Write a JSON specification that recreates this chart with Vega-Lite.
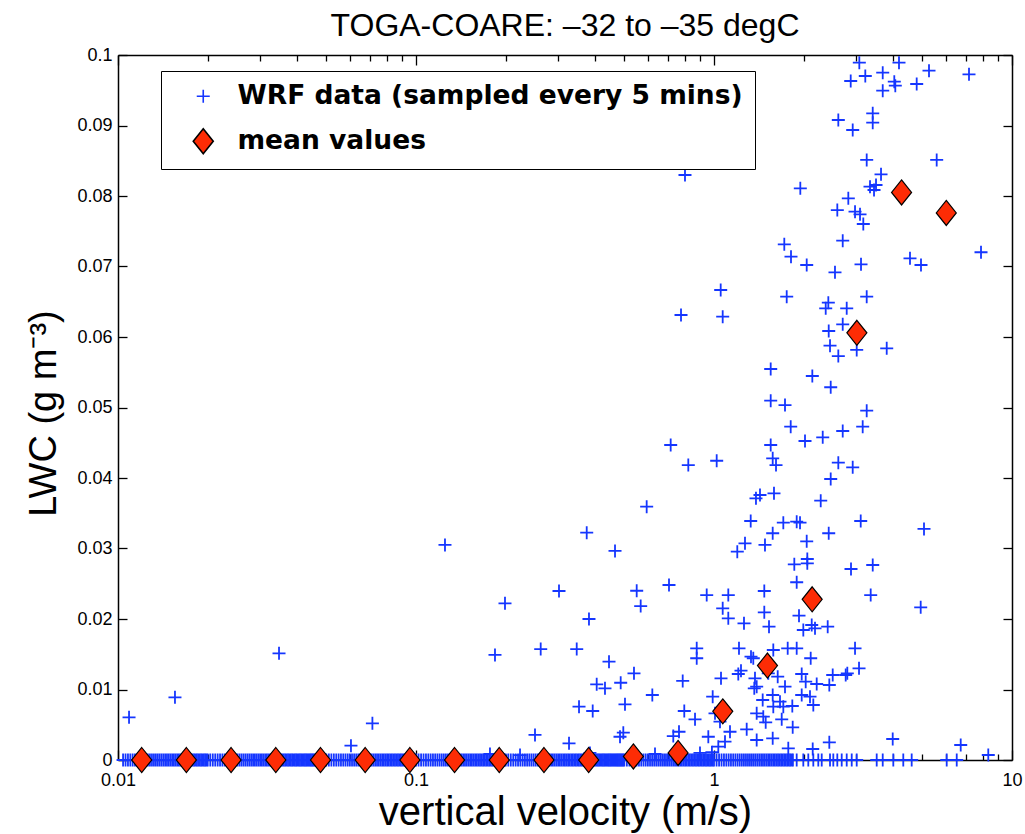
{
"$schema": "https://vega.github.io/schema/vega-lite/v6.json",
"width": 894,
"height": 705,
"autosize": {"type": "none"},
"padding": {"left": 118, "top": 55, "right": 13, "bottom": 74},
"background": "white",
"title": {"text": "TOGA-COARE: –32 to –35 degC", "font": "Liberation Sans", "fontSize": 32, "fontWeight": "normal", "color": "black", "anchor": "middle", "baseline": "alphabetic", "offset": 18, "dy": 40},
"config": {
  "view": {"stroke": null},
  "axis": {"grid": false, "domainColor": "black", "domainWidth": 1.5, "tickColor": "black", "tickWidth": 1.3, "labelColor": "black", "titleColor": "black", "labelFont": "Liberation Sans", "labelFontSize": 18, "titleFont": "Liberation Sans", "titleFontWeight": "normal", "labelFlush": false, "labelOverlap": false}
},
"datasets": {
"band": [
{"v":0.0104,"lwc":0},{"v":0.0106,"lwc":0},{"v":0.0108,"lwc":0},{"v":0.011,"lwc":0},{"v":0.0112,"lwc":0},{"v":0.0114,"lwc":0},{"v":0.0116,"lwc":0},{"v":0.0118,"lwc":0},{"v":0.012,"lwc":0},{"v":0.0122,"lwc":0},{"v":0.0124,"lwc":0},{"v":0.0126,"lwc":0},{"v":0.0128,"lwc":0},{"v":0.013,"lwc":0},{"v":0.0132,"lwc":0},{"v":0.0134,"lwc":0},{"v":0.0136,"lwc":0},{"v":0.0138,"lwc":0},{"v":0.014,"lwc":0},{"v":0.0142,"lwc":0},{"v":0.0144,"lwc":0},{"v":0.0146,"lwc":0},{"v":0.0148,"lwc":0},{"v":0.015,"lwc":0},{"v":0.0152,"lwc":0},{"v":0.0154,"lwc":0},{"v":0.0156,"lwc":0},{"v":0.0158,"lwc":0},{"v":0.016,"lwc":0},{"v":0.0162,"lwc":0},{"v":0.0164,"lwc":0},{"v":0.0166,"lwc":0},{"v":0.0168,"lwc":0},{"v":0.017,"lwc":0},{"v":0.0172,"lwc":0},{"v":0.0174,"lwc":0},{"v":0.0176,"lwc":0},{"v":0.0178,"lwc":0},{"v":0.018,"lwc":0},{"v":0.0182,"lwc":0},{"v":0.0184,"lwc":0},{"v":0.0186,"lwc":0},{"v":0.0188,"lwc":0},{"v":0.019,"lwc":0},{"v":0.0192,"lwc":0},{"v":0.0194,"lwc":0},{"v":0.0196,"lwc":0},{"v":0.0198,"lwc":0},
{"v":0.02,"lwc":0},{"v":0.0204,"lwc":0},{"v":0.0208,"lwc":0},{"v":0.0212,"lwc":0},{"v":0.0216,"lwc":0},{"v":0.022,"lwc":0},{"v":0.0224,"lwc":0},{"v":0.0228,"lwc":0},{"v":0.0232,"lwc":0},{"v":0.0236,"lwc":0},{"v":0.024,"lwc":0},{"v":0.0244,"lwc":0},{"v":0.0248,"lwc":0},{"v":0.0252,"lwc":0},{"v":0.0256,"lwc":0},{"v":0.026,"lwc":0},{"v":0.0264,"lwc":0},{"v":0.0268,"lwc":0},{"v":0.0272,"lwc":0},{"v":0.0276,"lwc":0},{"v":0.028,"lwc":0},{"v":0.0284,"lwc":0},{"v":0.0288,"lwc":0},{"v":0.0292,"lwc":0},{"v":0.0296,"lwc":0},{"v":0.03,"lwc":0},{"v":0.0304,"lwc":0},{"v":0.0308,"lwc":0},{"v":0.0312,"lwc":0},{"v":0.0316,"lwc":0},{"v":0.032,"lwc":0},{"v":0.0324,"lwc":0},{"v":0.0328,"lwc":0},{"v":0.0332,"lwc":0},{"v":0.0336,"lwc":0},{"v":0.034,"lwc":0},{"v":0.0344,"lwc":0},{"v":0.0348,"lwc":0},{"v":0.0352,"lwc":0},{"v":0.0356,"lwc":0},{"v":0.036,"lwc":0},{"v":0.0364,"lwc":0},{"v":0.0368,"lwc":0},{"v":0.0372,"lwc":0},{"v":0.0376,"lwc":0},{"v":0.038,"lwc":0},{"v":0.0384,"lwc":0},{"v":0.0388,"lwc":0},{"v":0.0392,"lwc":0},{"v":0.0396,"lwc":0},{"v":0.04,"lwc":0},{"v":0.0404,"lwc":0},{"v":0.0408,"lwc":0},{"v":0.0412,"lwc":0},{"v":0.0416,"lwc":0},{"v":0.042,"lwc":0},{"v":0.0424,"lwc":0},{"v":0.0428,"lwc":0},{"v":0.0432,"lwc":0},{"v":0.0436,"lwc":0},{"v":0.044,"lwc":0},{"v":0.0444,"lwc":0},{"v":0.0448,"lwc":0},{"v":0.0452,"lwc":0},{"v":0.0456,"lwc":0},{"v":0.046,"lwc":0},{"v":0.0464,"lwc":0},{"v":0.0468,"lwc":0},{"v":0.0472,"lwc":0},{"v":0.0476,"lwc":0},{"v":0.048,"lwc":0},{"v":0.0484,"lwc":0},{"v":0.0488,"lwc":0},{"v":0.0492,"lwc":0},{"v":0.0496,"lwc":0},
{"v":0.05,"lwc":0},{"v":0.051,"lwc":0},{"v":0.052,"lwc":0},{"v":0.053,"lwc":0},{"v":0.054,"lwc":0},{"v":0.055,"lwc":0},{"v":0.056,"lwc":0},{"v":0.057,"lwc":0},{"v":0.058,"lwc":0},{"v":0.059,"lwc":0},{"v":0.06,"lwc":0},{"v":0.061,"lwc":0},{"v":0.062,"lwc":0},{"v":0.063,"lwc":0},{"v":0.064,"lwc":0},{"v":0.065,"lwc":0},{"v":0.066,"lwc":0},{"v":0.067,"lwc":0},{"v":0.068,"lwc":0},{"v":0.069,"lwc":0},{"v":0.07,"lwc":0},{"v":0.071,"lwc":0},{"v":0.072,"lwc":0},{"v":0.073,"lwc":0},{"v":0.074,"lwc":0},{"v":0.075,"lwc":0},{"v":0.076,"lwc":0},{"v":0.077,"lwc":0},{"v":0.078,"lwc":0},{"v":0.079,"lwc":0},{"v":0.08,"lwc":0},{"v":0.081,"lwc":0},{"v":0.082,"lwc":0},{"v":0.083,"lwc":0},{"v":0.084,"lwc":0},{"v":0.085,"lwc":0},{"v":0.086,"lwc":0},{"v":0.087,"lwc":0},{"v":0.088,"lwc":0},{"v":0.089,"lwc":0},{"v":0.09,"lwc":0},{"v":0.091,"lwc":0},{"v":0.092,"lwc":0},{"v":0.093,"lwc":0},{"v":0.094,"lwc":0},{"v":0.095,"lwc":0},{"v":0.096,"lwc":0},{"v":0.097,"lwc":0},{"v":0.098,"lwc":0},{"v":0.099,"lwc":0},
{"v":0.1,"lwc":0},{"v":0.102,"lwc":0},{"v":0.104,"lwc":0},{"v":0.106,"lwc":0},{"v":0.108,"lwc":0},{"v":0.11,"lwc":0},{"v":0.112,"lwc":0},{"v":0.114,"lwc":0},{"v":0.116,"lwc":0},{"v":0.118,"lwc":0},{"v":0.12,"lwc":0},{"v":0.122,"lwc":0},{"v":0.124,"lwc":0},{"v":0.126,"lwc":0},{"v":0.128,"lwc":0},{"v":0.13,"lwc":0},{"v":0.132,"lwc":0},{"v":0.134,"lwc":0},{"v":0.136,"lwc":0},{"v":0.138,"lwc":0},{"v":0.14,"lwc":0},{"v":0.142,"lwc":0},{"v":0.144,"lwc":0},{"v":0.146,"lwc":0},{"v":0.148,"lwc":0},{"v":0.15,"lwc":0},{"v":0.152,"lwc":0},{"v":0.154,"lwc":0},{"v":0.156,"lwc":0},{"v":0.158,"lwc":0},{"v":0.16,"lwc":0},{"v":0.162,"lwc":0},{"v":0.164,"lwc":0},{"v":0.166,"lwc":0},{"v":0.168,"lwc":0},{"v":0.17,"lwc":0},{"v":0.172,"lwc":0},{"v":0.174,"lwc":0},{"v":0.176,"lwc":0},{"v":0.178,"lwc":0},{"v":0.18,"lwc":0},{"v":0.182,"lwc":0},{"v":0.184,"lwc":0},{"v":0.186,"lwc":0},{"v":0.188,"lwc":0},{"v":0.19,"lwc":0},{"v":0.192,"lwc":0},{"v":0.194,"lwc":0},{"v":0.196,"lwc":0},{"v":0.198,"lwc":0},
{"v":0.2,"lwc":0},{"v":0.204,"lwc":0},{"v":0.208,"lwc":0},{"v":0.212,"lwc":0},{"v":0.216,"lwc":0},{"v":0.22,"lwc":0},{"v":0.224,"lwc":0},{"v":0.228,"lwc":0},{"v":0.232,"lwc":0},{"v":0.236,"lwc":0},{"v":0.24,"lwc":0},{"v":0.244,"lwc":0},{"v":0.248,"lwc":0},{"v":0.252,"lwc":0},{"v":0.256,"lwc":0},{"v":0.26,"lwc":0},{"v":0.264,"lwc":0},{"v":0.268,"lwc":0},{"v":0.272,"lwc":0},{"v":0.276,"lwc":0},{"v":0.28,"lwc":0},{"v":0.284,"lwc":0},{"v":0.288,"lwc":0},{"v":0.292,"lwc":0},{"v":0.296,"lwc":0},{"v":0.3,"lwc":0},{"v":0.304,"lwc":0},{"v":0.308,"lwc":0},{"v":0.312,"lwc":0},{"v":0.316,"lwc":0},{"v":0.32,"lwc":0},{"v":0.324,"lwc":0},{"v":0.328,"lwc":0},{"v":0.332,"lwc":0},{"v":0.336,"lwc":0},{"v":0.34,"lwc":0},{"v":0.344,"lwc":0},{"v":0.348,"lwc":0},{"v":0.352,"lwc":0},{"v":0.356,"lwc":0},{"v":0.36,"lwc":0},{"v":0.364,"lwc":0},{"v":0.368,"lwc":0},{"v":0.372,"lwc":0},{"v":0.376,"lwc":0},{"v":0.38,"lwc":0},{"v":0.384,"lwc":0},{"v":0.388,"lwc":0},{"v":0.392,"lwc":0},{"v":0.396,"lwc":0},{"v":0.4,"lwc":0},{"v":0.404,"lwc":0},{"v":0.408,"lwc":0},{"v":0.412,"lwc":0},{"v":0.416,"lwc":0},{"v":0.42,"lwc":0},{"v":0.424,"lwc":0},{"v":0.428,"lwc":0},{"v":0.432,"lwc":0},{"v":0.436,"lwc":0},{"v":0.44,"lwc":0},{"v":0.444,"lwc":0},{"v":0.448,"lwc":0},{"v":0.452,"lwc":0},{"v":0.456,"lwc":0},{"v":0.46,"lwc":0},{"v":0.464,"lwc":0},{"v":0.468,"lwc":0},{"v":0.472,"lwc":0},{"v":0.476,"lwc":0},{"v":0.48,"lwc":0},{"v":0.484,"lwc":0},{"v":0.488,"lwc":0},{"v":0.492,"lwc":0},{"v":0.496,"lwc":0},
{"v":0.5,"lwc":0},{"v":0.51,"lwc":0},{"v":0.52,"lwc":0},{"v":0.53,"lwc":0},{"v":0.54,"lwc":0},{"v":0.55,"lwc":0},{"v":0.56,"lwc":0},{"v":0.57,"lwc":0},{"v":0.58,"lwc":0},{"v":0.59,"lwc":0},{"v":0.6,"lwc":0},{"v":0.61,"lwc":0},{"v":0.62,"lwc":0},{"v":0.63,"lwc":0},{"v":0.64,"lwc":0},{"v":0.65,"lwc":0},{"v":0.66,"lwc":0},{"v":0.67,"lwc":0},{"v":0.68,"lwc":0},{"v":0.69,"lwc":0},{"v":0.7,"lwc":0},{"v":0.71,"lwc":0},{"v":0.72,"lwc":0},{"v":0.73,"lwc":0},{"v":0.74,"lwc":0},{"v":0.75,"lwc":0},{"v":0.76,"lwc":0},{"v":0.77,"lwc":0},{"v":0.78,"lwc":0},{"v":0.79,"lwc":0},{"v":0.8,"lwc":0},{"v":0.81,"lwc":0},{"v":0.82,"lwc":0},{"v":0.83,"lwc":0},{"v":0.84,"lwc":0},{"v":0.85,"lwc":0},{"v":0.86,"lwc":0},{"v":0.87,"lwc":0},{"v":0.88,"lwc":0},{"v":0.89,"lwc":0},{"v":0.9,"lwc":0},{"v":0.91,"lwc":0},{"v":0.92,"lwc":0},{"v":0.93,"lwc":0},{"v":0.94,"lwc":0},{"v":0.95,"lwc":0},{"v":0.96,"lwc":0},{"v":0.97,"lwc":0},{"v":0.98,"lwc":0},{"v":0.99,"lwc":0},
{"v":1,"lwc":0},{"v":1.02,"lwc":0},{"v":1.04,"lwc":0},{"v":1.06,"lwc":0},{"v":1.08,"lwc":0},{"v":1.1,"lwc":0},{"v":1.12,"lwc":0},{"v":1.14,"lwc":0},{"v":1.16,"lwc":0},{"v":1.18,"lwc":0},{"v":1.2,"lwc":0},{"v":1.22,"lwc":0},{"v":1.24,"lwc":0},{"v":1.26,"lwc":0},{"v":1.28,"lwc":0},{"v":1.3,"lwc":0},{"v":1.32,"lwc":0},{"v":1.34,"lwc":0},{"v":1.36,"lwc":0},{"v":1.38,"lwc":0},{"v":1.4,"lwc":0},{"v":1.42,"lwc":0},{"v":1.44,"lwc":0},{"v":1.46,"lwc":0},{"v":1.48,"lwc":0},{"v":1.5,"lwc":0},{"v":1.52,"lwc":0},{"v":1.54,"lwc":0},{"v":1.56,"lwc":0},{"v":1.58,"lwc":0},{"v":1.6,"lwc":0},{"v":1.62,"lwc":0},{"v":1.64,"lwc":0},{"v":1.66,"lwc":0},{"v":1.68,"lwc":0},{"v":1.7,"lwc":0},{"v":1.72,"lwc":0},{"v":1.74,"lwc":0},{"v":1.76,"lwc":0},{"v":1.78,"lwc":0},{"v":1.8,"lwc":0},{"v":1.82,"lwc":0},{"v":1.84,"lwc":0}
],
"wrf": [
{"v":0.01089,"lwc":0.00606,"s":"w"},{"v":0.01553,"lwc":0.00889,"s":"w"},{"v":0.0347,"lwc":0.01513,"s":"w"},{"v":0.0605,"lwc":0.00203,"s":"w"},{"v":0.0714,"lwc":0.0052,"s":"w"},{"v":0.1251,"lwc":0.0305,"s":"w"},{"v":0.1771,"lwc":0.00085,"s":"w"},{"v":0.1841,"lwc":0.0149,"s":"w"},{"v":0.1989,"lwc":0.02223,"s":"w"},{"v":0.2234,"lwc":0.0007,"s":"w"},{"v":0.2508,"lwc":0.00355,"s":"w"},{"v":0.2621,"lwc":0.01574,"s":"w"},{"v":0.3019,"lwc":0.02397,"s":"w"},{"v":0.3262,"lwc":0.00237,"s":"w"},{"v":0.3462,"lwc":0.01574,"s":"w"},{"v":0.3524,"lwc":0.00756,"s":"w"},{"v":0.374,"lwc":0.03224,"s":"w"},{"v":0.3806,"lwc":0.02,"s":"w"},{"v":0.3834,"lwc":0.001,"s":"w"},{"v":0.3917,"lwc":0.00695,"s":"w"},{"v":0.404,"lwc":0.01074,"s":"w"},{"v":0.4307,"lwc":0.01017,"s":"w"},{"v":0.4443,"lwc":0.01394,"s":"w"},{"v":0.4654,"lwc":0.02965,"s":"w"},{"v":0.4837,"lwc":0.0033,"s":"w"},{"v":0.4863,"lwc":0.01096,"s":"w"},{"v":0.4962,"lwc":0.00387,"s":"w"},{"v":0.5027,"lwc":0.0079,"s":"w"},{"v":0.5389,"lwc":0.0123,"s":"w"},{"v":0.5503,"lwc":0.02401,"s":"w"},{"v":0.5675,"lwc":0.02184,"s":"w"},{"v":0.5944,"lwc":0.03593,"s":"w"},{"v":0.6209,"lwc":0.00922,"s":"w"},{"v":0.6339,"lwc":0.00085,"s":"w"},{"v":0.7063,"lwc":0.02482,"s":"w"},{"v":0.7156,"lwc":0.04468,"s":"w"},{"v":0.7301,"lwc":0.0034,"s":"w"},{"v":0.763,"lwc":0.00401,"s":"w"},{"v":0.775,"lwc":0.06312,"s":"w"},{"v":0.7852,"lwc":0.01121,"s":"w"},{"v":0.7948,"lwc":0.00695,"s":"w"},{"v":0.7992,"lwc":0.08298,"s":"w"},{"v":0.8199,"lwc":0.04184,"s":"w"},{"v":0.8636,"lwc":0.00577,"s":"w"},{"v":0.875,"lwc":0.01584,"s":"w"},{"v":0.875,"lwc":0.01443,"s":"w"},{"v":0.8974,"lwc":0.001,"s":"w"},{"v":0.9452,"lwc":0.0234,"s":"w"},{"v":0.957,"lwc":0.0033,"s":"w"},{"v":0.984,"lwc":0.0011,"s":"w"},{"v":0.9899,"lwc":0.00898,"s":"w"},
{"v":1.0078,"lwc":0.00662,"s":"w"},{"v":1.021,"lwc":0.04245,"s":"w"},{"v":1.0338,"lwc":0.00189,"s":"w"},{"v":1.0474,"lwc":0.00543,"s":"w"},{"v":1.0531,"lwc":0.06667,"s":"w"},{"v":1.0556,"lwc":0.01159,"s":"w"},{"v":1.0695,"lwc":0.02152,"s":"w"},{"v":1.0695,"lwc":0.06288,"s":"w"},{"v":1.0887,"lwc":0.0026,"s":"w"},{"v":1.1168,"lwc":0.0234,"s":"w"},{"v":1.1168,"lwc":0.0201,"s":"w"},{"v":1.1315,"lwc":0.00401,"s":"w"},{"v":1.1971,"lwc":0.02955,"s":"w"},{"v":1.2064,"lwc":0.0122,"s":"w"},{"v":1.213,"lwc":0.01584,"s":"w"},{"v":1.2319,"lwc":0.01267,"s":"w"},{"v":1.2608,"lwc":0.01939,"s":"w"},{"v":1.2706,"lwc":0.03074,"s":"w"},{"v":1.2874,"lwc":0.00435,"s":"w"},{"v":1.3279,"lwc":0.0339,"s":"w"},{"v":1.331,"lwc":0.01465,"s":"w"},{"v":1.3547,"lwc":0.01443,"s":"w"},{"v":1.3651,"lwc":0.01017,"s":"w"},{"v":1.3726,"lwc":0.01159,"s":"w"},{"v":1.3831,"lwc":0.03712,"s":"w"},{"v":1.3907,"lwc":0.0104,"s":"w"},{"v":1.3907,"lwc":0.00662,"s":"w"},{"v":1.3907,"lwc":0.00284,"s":"w"},{"v":1.4267,"lwc":0.03759,"s":"w"},{"v":1.4567,"lwc":0.00851,"s":"w"},{"v":1.4634,"lwc":0.00614,"s":"w"},{"v":1.4749,"lwc":0.02397,"s":"w"},{"v":1.4749,"lwc":0.02095,"s":"w"},{"v":1.4828,"lwc":0.0305,"s":"w"},{"v":1.491,"lwc":0.00535,"s":"w"},{"v":1.5212,"lwc":0.0123,"s":"w"},{"v":1.5296,"lwc":0.01891,"s":"w"},{"v":1.5498,"lwc":0.04468,"s":"w"},{"v":1.5498,"lwc":0.05097,"s":"w"},{"v":1.5498,"lwc":0.05546,"s":"w"},{"v":1.5739,"lwc":0.04279,"s":"w"},{"v":1.5739,"lwc":0.03216,"s":"w"},{"v":1.5739,"lwc":0.00922,"s":"w"},{"v":1.5739,"lwc":0.00308,"s":"w"},{"v":1.5812,"lwc":0.0156,"s":"w"},{"v":1.5812,"lwc":0.00756,"s":"w"},{"v":1.5897,"lwc":0.03783,"s":"w"},{"v":1.6147,"lwc":0.04184,"s":"w"},{"v":1.636,"lwc":0.01182,"s":"w"},{"v":1.6653,"lwc":0.00827,"s":"w"},{"v":1.6874,"lwc":0.00577,"s":"w"},{"v":1.7084,"lwc":0.03366,"s":"w"},{"v":1.7084,"lwc":0.00756,"s":"w"},{"v":1.7214,"lwc":0.07315,"s":"w"},{"v":1.7309,"lwc":0.05035,"s":"w"},{"v":1.7309,"lwc":0.0104,"s":"w"},{"v":1.7538,"lwc":0.06572,"s":"w"},{"v":1.7673,"lwc":0.01584,"s":"w"},{"v":1.7754,"lwc":0.00166,"s":"w"},{"v":1.8088,"lwc":0.04728,"s":"w"},{"v":1.813,"lwc":0.07139,"s":"w"},{"v":1.8314,"lwc":0.00766,"s":"w"},{"v":1.8369,"lwc":0.00464,"s":"w"},{"v":1.8599,"lwc":0.02776,"s":"w"},{"v":1.8945,"lwc":0.0338,"s":"w"},{"v":1.8945,"lwc":0.02521,"s":"w"},{"v":1.8945,"lwc":0.01584,"s":"w"},{"v":1.8945,"lwc":0,"s":"w"},{"v":1.9286,"lwc":0.02047,"s":"w"},{"v":1.9437,"lwc":0.03366,"s":"w"},{"v":1.9482,"lwc":0.08109,"s":"w"},{"v":1.9693,"lwc":0.0122,"s":"w"},{"v":1.9693,"lwc":0.00922,"s":"w"},{"v":1.9939,"lwc":0.01844,"s":"w"},{"v":1.9939,"lwc":0,"s":"w"},
{"v":2.0202,"lwc":0.04525,"s":"w"},{"v":2.031,"lwc":0.01111,"s":"w"},{"v":2.0469,"lwc":0.03102,"s":"w"},{"v":2.0469,"lwc":0.07021,"s":"w"},{"v":2.0564,"lwc":0.02851,"s":"w"},{"v":2.0564,"lwc":0.0279,"s":"w"},{"v":2.0722,"lwc":0,"s":"w"},{"v":2.0996,"lwc":0.00898,"s":"w"},{"v":2.111,"lwc":0.01443,"s":"w"},{"v":2.1277,"lwc":0.01915,"s":"w"},{"v":2.1376,"lwc":0.05447,"s":"w"},{"v":2.1441,"lwc":0.00156,"s":"w"},{"v":2.1541,"lwc":0.0078,"s":"w"},{"v":2.1541,"lwc":0,"s":"w"},{"v":2.1825,"lwc":0.01868,"s":"w"},{"v":2.2113,"lwc":0.01078,"s":"w"},{"v":2.2387,"lwc":0,"s":"w"},{"v":2.281,"lwc":0.03678,"s":"w"},{"v":2.2987,"lwc":0,"s":"w"},{"v":2.3166,"lwc":0.04577,"s":"w"},{"v":2.3707,"lwc":0.06407,"s":"w"},{"v":2.4074,"lwc":0.01891,"s":"w"},{"v":2.419,"lwc":0.06487,"s":"w"},{"v":2.4263,"lwc":0.03216,"s":"w"},{"v":2.4263,"lwc":0.06085,"s":"w"},{"v":2.4375,"lwc":0.01064,"s":"w"},{"v":2.4375,"lwc":0.00251,"s":"w"},{"v":2.4509,"lwc":0.05877,"s":"w"},{"v":2.4509,"lwc":0,"s":"w"},{"v":2.464,"lwc":0.03986,"s":"w"},{"v":2.464,"lwc":0.05287,"s":"w"},{"v":2.5024,"lwc":0.01206,"s":"w"},{"v":2.5141,"lwc":0,"s":"w"},{"v":2.5468,"lwc":0.06918,"s":"w"},{"v":2.5929,"lwc":0.07801,"s":"w"},{"v":2.5929,"lwc":0,"s":"w"},{"v":2.6131,"lwc":0.04217,"s":"w"},{"v":2.6131,"lwc":0.09078,"s":"w"},{"v":2.6131,"lwc":0.0573,"s":"w"},{"v":2.6825,"lwc":0,"s":"w"},{"v":2.7036,"lwc":0.04667,"s":"w"},{"v":2.7036,"lwc":0.07366,"s":"w"},{"v":2.7036,"lwc":0.0618,"s":"w"},{"v":2.7666,"lwc":0.01206,"s":"w"},{"v":2.7883,"lwc":0.06407,"s":"w"},{"v":2.7883,"lwc":0,"s":"w"},{"v":2.8012,"lwc":0.0123,"s":"w"},{"v":2.823,"lwc":0.07967,"s":"w"},{"v":2.8758,"lwc":0.09631,"s":"w"},{"v":2.8824,"lwc":0.02709,"s":"w"},{"v":2.8983,"lwc":0,"s":"w"},{"v":2.9205,"lwc":0.04152,"s":"w"},{"v":2.9205,"lwc":0.08936,"s":"w"},{"v":2.9734,"lwc":0.01584,"s":"w"},{"v":2.9734,"lwc":0.07777,"s":"w"},
{"v":3.0123,"lwc":0.05816,"s":"w"},{"v":3.0123,"lwc":0,"s":"w"},{"v":3.0665,"lwc":0.01301,"s":"w"},{"v":3.0735,"lwc":0.09891,"s":"w"},{"v":3.0903,"lwc":0.0774,"s":"w"},{"v":3.107,"lwc":0.0339,"s":"w"},{"v":3.1141,"lwc":0.07031,"s":"w"},{"v":3.1548,"lwc":0.04728,"s":"w"},{"v":3.1696,"lwc":0.07603,"s":"w"},{"v":3.2189,"lwc":0.09702,"s":"w"},{"v":3.2541,"lwc":0.04955,"s":"w"},{"v":3.2541,"lwc":0.08511,"s":"w"},{"v":3.2541,"lwc":0.06572,"s":"w"},{"v":3.3382,"lwc":0.08132,"s":"w"},{"v":3.356,"lwc":0.0234,"s":"w"},{"v":3.4091,"lwc":0.02766,"s":"w"},{"v":3.4091,"lwc":0.09173,"s":"w"},{"v":3.4091,"lwc":0.0904,"s":"w"},{"v":3.4434,"lwc":0.08085,"s":"w"},{"v":3.4969,"lwc":0.08156,"s":"w"},{"v":3.5156,"lwc":0,"s":"w"},{"v":3.6348,"lwc":0.08308,"s":"w"},{"v":3.6829,"lwc":0.09749,"s":"w"},{"v":3.6829,"lwc":0.09494,"s":"w"},{"v":3.6829,"lwc":0,"s":"w"},{"v":3.7983,"lwc":0.0584,"s":"w"},{"v":3.9783,"lwc":0.00298,"s":"w"},{"v":3.9966,"lwc":0,"s":"w"},{"v":4.0272,"lwc":0.09621,"s":"w"},{"v":4.0588,"lwc":0.09565,"s":"w"},{"v":4.1763,"lwc":0.09891,"s":"w"},{"v":4.3169,"lwc":0,"s":"w"},{"v":4.5468,"lwc":0.07116,"s":"w"},{"v":4.6066,"lwc":0,"s":"w"},{"v":4.7884,"lwc":0.09589,"s":"w"},{"v":4.9387,"lwc":0.02166,"s":"w"},{"v":4.9502,"lwc":0.07021,"s":"w"},{"v":5.0667,"lwc":0.03277,"s":"w"},{"v":5.2661,"lwc":0.09777,"s":"w"},{"v":5.5883,"lwc":0.08511,"s":"w"},{"v":6.0381,"lwc":0,"s":"w"},{"v":6.5244,"lwc":0,"s":"w"},{"v":6.7283,"lwc":0.00213,"s":"w"},{"v":7.173,"lwc":0.09726,"s":"w"},{"v":7.8705,"lwc":0.07202,"s":"w"},{"v":8.3255,"lwc":0.00071,"s":"w"}
],
"means": [
{"v":0.01201,"lwc":0,"s":"m"},{"v":0.01696,"lwc":0,"s":"m"},{"v":0.02396,"lwc":0,"s":"m"},{"v":0.03385,"lwc":0,"s":"m"},{"v":0.04781,"lwc":0,"s":"m"},{"v":0.06753,"lwc":0,"s":"m"},{"v":0.09539,"lwc":0,"s":"m"},{"v":0.1347,"lwc":0,"s":"m"},{"v":0.1903,"lwc":0,"s":"m"},{"v":0.2688,"lwc":0,"s":"m"},{"v":0.3797,"lwc":0,"s":"m"},{"v":0.5364,"lwc":0.0005,"s":"m"},{"v":0.7576,"lwc":0.001,"s":"m"},{"v":1.0702,"lwc":0.0069,"s":"m"},{"v":1.5116,"lwc":0.0134,"s":"m"},{"v":2.1352,"lwc":0.0228,"s":"m"},{"v":3.016,"lwc":0.0606,"s":"m"},{"v":4.26,"lwc":0.0805,"s":"m"},{"v":6.018,"lwc":0.0776,"s":"m"}
]
},
"resolve": {"axis": {"x": "independent", "y": "independent"}},
"layer": [
{
  "data": {"name": "band"},
  "mark": {"type": "point", "shape": "M-1,0H1M0,-1V1", "size": 169, "filled": false, "stroke": "#1536ff", "strokeWidth": 1.8, "opacity": 1},
  "encoding": {
    "x": {"field": "v", "type": "quantitative", "scale": {"type": "log", "domain": [0.01, 10], "nice": false}, "axis": null},
    "y": {"field": "lwc", "type": "quantitative", "scale": {"domain": [0, 0.1], "nice": false, "zero": false}, "axis": null}
  }
},
{
  "data": {"name": "wrf"},
  "mark": {"type": "point", "filled": true, "strokeWidth": 1.8, "opacity": 1},
  "encoding": {
    "x": {"field": "v", "type": "quantitative", "scale": {"type": "log", "domain": [0.01, 10], "nice": false},
      "axis": {"orient": "bottom", "title": "vertical velocity (m/s)", "titleFontSize": 40, "titleY": 64, "titleBaseline": "alphabetic",
        "values": [0.01,0.02,0.03,0.04,0.05,0.06,0.07,0.08,0.09,0.1,0.2,0.3,0.4,0.5,0.6,0.7,0.8,0.9,1,2,3,4,5,6,7,8,9,10],
        "format": "~g", "labelExpr": "datum.value == 0.01 || datum.value == 0.1 || datum.value == 1 || datum.value == 10 ? datum.label : ''",
        "tickSize": {"condition": {"test": "datum.value == 0.01 || datum.value == 0.1 || datum.value == 1 || datum.value == 10", "value": -10}, "value": -6},
        "labelPadding": 21, "labelBaseline": "top"}},
    "y": {"field": "lwc", "type": "quantitative", "scale": {"domain": [0, 0.1], "nice": false, "zero": false},
      "axis": {"orient": "left", "title": "LWC (g m⁻³)", "titleFontSize": 38, "titleX": -74, "titleY": 358, "titleAngle": -90, "titleAlign": "center", "titleBaseline": "middle",
        "values": [0,0.01,0.02,0.03,0.04,0.05,0.06,0.07,0.08,0.09,0.1], "format": "~g", "tickSize": -9, "labelPadding": 15}},
    "shape": {"field": "s", "type": "nominal", "scale": {"domain": ["w", "m"], "range": ["M-1,0H1M0,-1V1", "M0,-1.25L1,0L0,1.25L-1,0Z"]},
      "legend": {"orient": "none", "legendX": 43, "legendY": 16, "title": null, "padding": 12, "strokeColor": "black", "fillColor": "white",
        "labelFont": "DejaVu Sans", "labelFontWeight": "bold", "labelFontSize": 26.5, "labelColor": "black", "labelLimit": 0, "symbolOffset": 17, "labelOffset": 21, "rowPadding": 15, "symbolStrokeWidth": 1.6,
        "labelExpr": "datum.value == 'w' ? 'WRF data (sampled every 5 mins)' : 'mean values'"}},
    "fill": {"field": "s", "type": "nominal", "scale": {"domain": ["w", "m"], "range": ["transparent", "#fd2c05"]}},
    "stroke": {"field": "s", "type": "nominal", "scale": {"domain": ["w", "m"], "range": ["#1536ff", "#000000"]}},
    "size": {"field": "s", "type": "nominal", "scale": {"domain": ["w", "m"], "range": [169, 400]}}
  }
},
{
  "data": {"name": "means"},
  "mark": {"type": "point", "filled": true, "strokeWidth": 1.2, "opacity": 1},
  "encoding": {
    "x": {"field": "v", "type": "quantitative", "scale": {"type": "log", "domain": [0.01, 10], "nice": false},
      "axis": {"orient": "top", "title": null, "labels": false,
        "values": [0.01,0.02,0.03,0.04,0.05,0.06,0.07,0.08,0.09,0.1,0.2,0.3,0.4,0.5,0.6,0.7,0.8,0.9,1,2,3,4,5,6,7,8,9,10],
        "tickSize": {"condition": {"test": "datum.value == 0.01 || datum.value == 0.1 || datum.value == 1 || datum.value == 10", "value": -10}, "value": -6}}},
    "y": {"field": "lwc", "type": "quantitative", "scale": {"domain": [0, 0.1], "nice": false, "zero": false},
      "axis": {"orient": "right", "title": null, "labels": false, "values": [0,0.01,0.02,0.03,0.04,0.05,0.06,0.07,0.08,0.09,0.1], "tickSize": -9}},
    "shape": {"field": "s", "type": "nominal", "scale": {"domain": ["w", "m"], "range": ["M-1,0H1M0,-1V1", "M0,-1.25L1,0L0,1.25L-1,0Z"]}},
    "fill": {"field": "s", "type": "nominal", "scale": {"domain": ["w", "m"], "range": ["transparent", "#fd2c05"]}},
    "stroke": {"field": "s", "type": "nominal", "scale": {"domain": ["w", "m"], "range": ["#1536ff", "#000000"]}},
    "size": {"field": "s", "type": "nominal", "scale": {"domain": ["w", "m"], "range": [169, 400]}}
  }
}
]
}
